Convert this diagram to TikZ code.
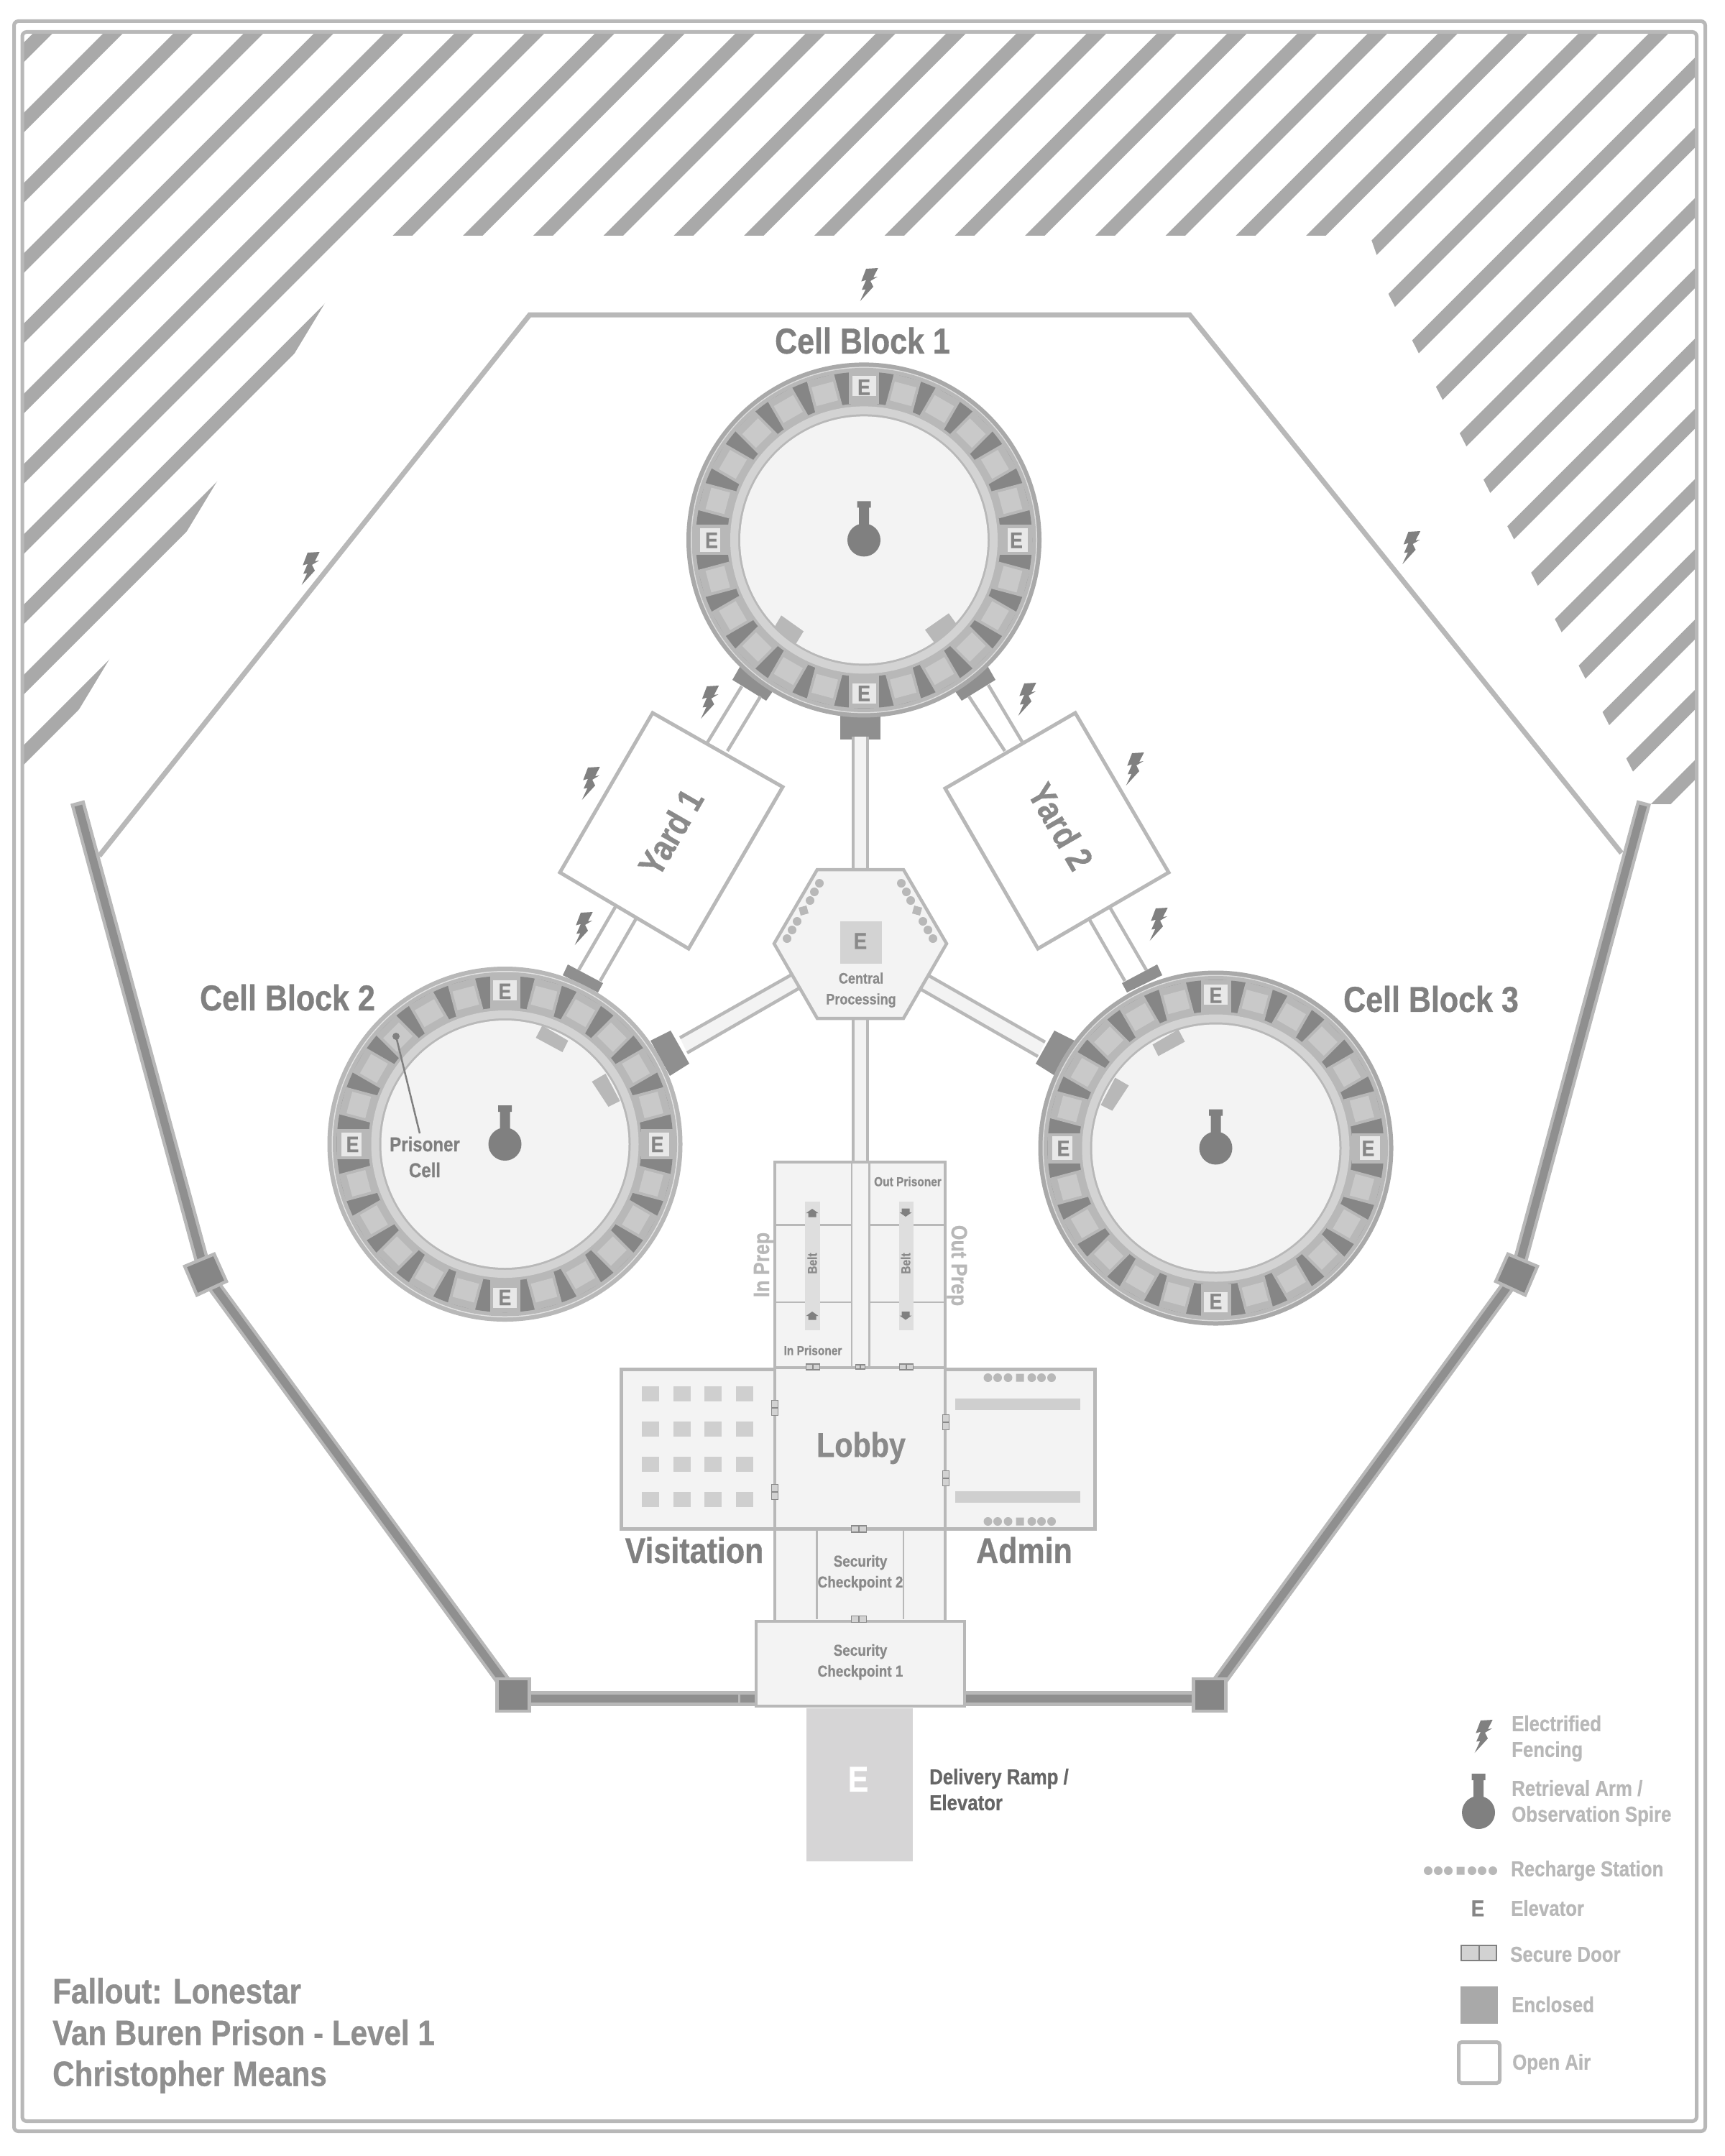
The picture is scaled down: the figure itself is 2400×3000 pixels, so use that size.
\documentclass[tikz,border=0pt]{standalone}
\usepackage{fontspec}
\newfontfamily\labfam[FakeStretch=0.86,BoldFeatures={FakeStretch=0.86,FakeBold=0.7}]{Liberation Sans}
\newcommand\lab{\labfam\bfseries}
\definecolor{wallc}{HTML}{B8B8B8}
\definecolor{stripec}{HTML}{A9A9A9}
\definecolor{floorc}{HTML}{F3F3F3}
\definecolor{darkc}{HTML}{868686}
\definecolor{padc}{HTML}{8F8F8F}
\definecolor{cellc}{HTML}{C9C9C9}
\definecolor{bandc}{HTML}{D3D3D3}
\definecolor{furnc}{HTML}{CFCFCF}
\definecolor{beltc}{HTML}{DEDEDE}
\definecolor{doorc}{HTML}{D2D2D2}
\definecolor{txtc}{HTML}{8A8A8A}
\definecolor{headc}{HTML}{808080}
\definecolor{rampc}{HTML}{D6D5D6}
\newcount\lblc
\newcommand\lbl[6][]{\global\advance\lblc by 1
  \pgfmathsetmacro\hh{0.716*#4}
  \node[name=lbl\the\lblc,inner sep=0pt,text height=\hh pt,text depth=0pt,text=#5,font={\lab\fontsize{#4}{#4}\selectfont},#1] at (#2,#3) {#6};}
\newcommand\bolt[2]{\fill[headc,shift={(#1,#2)}] (-4,-22) -- (12.7,-23) -- (6,-10) -- (12,-11) -- (2,-5) -- (6,3) -- (-12.3,23) -- (-4.7,6.6) -- (-10,7.4) -- (-4,-6.3) -- (-10.7,-4.4) -- cycle;}
\newcommand\arm[2]{\fill[headc,shift={(#1,#2)}] (0,0) circle[radius=23] (-7,2) rectangle (7,-46) (-9.5,-45) rectangle (9.5,-54);}
\newcommand\hdoor[4]{\draw[fill=doorc,draw=txtc,line width=1.1pt,shift={(#1,#2)}] (-#3/2,-#4/2) rectangle (#3/2,#4/2) (0,-#4/2) -- (0,#4/2);}
\newcommand\vdoor[4]{\draw[fill=doorc,draw=txtc,line width=1.1pt,shift={(#1,#2)}] (-#3/2,-#4/2) rectangle (#3/2,#4/2) (-#3/2,0) -- (#3/2,0);}
\newcommand\dotrow[2]{\fill[wallc,shift={(#1,#2)}] (-44.5,0) circle[radius=6] (-31,0) circle[radius=6] (-16.5,0) circle[radius=6] (-5.5,-5.5) rectangle (5.5,5.5) (16.5,0) circle[radius=6] (30,0) circle[radius=6] (44,0) circle[radius=6];}
\newcommand\corridor[4]{\fill[floorc] #1 -- #2 -- #4 -- #3 -- cycle; \draw[wallc,line width=4.5pt] #1 -- #2 #3 -- #4;}
\newcommand\cellblock[4]{%
\begin{scope}[shift={(#1,#2)}]
  \fill[#3] (0,0) circle[radius=247];
  \fill[#3!40!white] (0,0) circle[radius=241];
  \fill[wallc] (0,0) circle[radius=239.5];
  \fill[darkc] (0,0) circle[radius=234];
  \foreach \a in {15,30,45,60,75,105,120,135,150,165,195,210,225,240,255,285,300,315,330,345}{
    \begin{scope}[rotate=\a]
      \fill[wallc] (-19.5,-234) rectangle (19.5,-189);
      \fill[cellc] (-15.5,-224) rectangle (15.5,-197);
    \end{scope}}
  \foreach \a in {0,90,180,270}{
    \begin{scope}[rotate=\a]
      \fill[wallc] (-21,-234) rectangle (21,-189);
      \fill[white!91!black] (-16.5,-228) rectangle (16.5,-200);
    \end{scope}}
  \fill[wallc] (0,0) circle[radius=190];
  \fill[floorc] (0,0) circle[radius=172];
  #4
  \draw[bandc,line width=11pt] (0,0) circle[radius=180.5];
  \lbl{0}{-213}{31}{darkc}{E}
  \lbl{0}{213}{31}{darkc}{E}
  \lbl{-212}{0}{31}{darkc}{E}
  \lbl{212}{0}{31}{darkc}{E}
  \arm{0}{0}
\end{scope}}
\begin{document}
\begin{tikzpicture}[x=1pt,y=-1pt,line join=miter]
\useasboundingbox (0,0) rectangle (2400,3000);
\fill[white] (0,0) rectangle (2400,3000);
% hatched ground
\begin{scope}
  \clip (31,44.5) rectangle (2360.5,2951.5);
  \foreach \k in {-1,...,52}{
    \pgfmathsetmacro\cc{203.75+97.75*\k}
    \draw[stripec,line width=19.4pt] (\cc,0) -- (\cc-3200,3200);}
  \fill[white] (509,328) -- (1905,328) -- (1908,334) -- (1915,354) -- (1932,410) -- (2272,1074) -- (2297,1119) -- (2370,1119) -- (2370,3000) -- (20,3000) -- (20,1136) -- cycle;
\end{scope}
% frames
\draw[wallc,line width=5pt,rounded corners=6pt] (19.5,29.5) rectangle (2372.5,2965.5);
\draw[wallc,line width=5pt,rounded corners=6pt] (31,44.5) rectangle (2360.5,2951.5);
% electrified fence
\draw[wallc,line width=7pt] (138,1191) -- (737,438) -- (1655,438) -- (2256,1187);
% perimeter wall
\draw[wallc,line width=20pt] (107.7,1116) -- (286,1773) -- (714,2358);
\draw[padc,line width=11pt] (109,1121) -- (286,1773) -- (714,2358);
\draw[wallc,line width=20pt] (2287.3,1116) -- (2110,1773) -- (1683,2358);
\draw[padc,line width=11pt] (2286,1121) -- (2110,1773) -- (1683,2358);
\draw[wallc,line width=21pt] (714,2363.5) -- (1060,2363.5);
\draw[padc,line width=11pt] (714,2363.5) -- (1060,2363.5);
\draw[wallc,line width=21pt] (1683,2363.5) -- (1330,2363.5);
\draw[padc,line width=11pt] (1683,2363.5) -- (1330,2363.5);
\draw[wallc,line width=3pt] (1028,2353) -- (1028,2374);
\tikzset{pier/.style={fill=darkc,draw=wallc,line width=4.5pt}}
\draw[pier] (691.5,2336) rectangle (736.5,2381);
\draw[pier] (1660.5,2336) rectangle (1705.5,2381);
\draw[pier] (257,1762) -- (298,1745) -- (315,1783) -- (274,1802) -- cycle;
\draw[pier] (2139,1762) -- (2098,1745) -- (2081,1783) -- (2122,1802) -- cycle;
% pads under the blocks
\fill[padc] (1169,985) rectangle (1225,1029);
\fill[padc] (1019,946) -- (1035,918) -- (1085,948) -- (1066,975) -- cycle;
\fill[padc] (1385,946) -- (1369,918) -- (1319,948) -- (1338,975) -- cycle;
\fill[padc] (783,1357) -- (790,1342) -- (839,1368) -- (832,1381) -- cycle;
\fill[padc] (1617,1357) -- (1610,1342) -- (1561,1368) -- (1568,1381) -- cycle;
\fill[padc] (905,1448) -- (933,1434) -- (959,1480) -- (932,1497) -- cycle;
\fill[padc] (1495,1448) -- (1467,1434) -- (1441,1480) -- (1468,1497) -- cycle;
% corridors
\corridor{(1187,1025)}{(1187,1215)}{(1207,1025)}{(1207,1215)}
\corridor{(1187,1412)}{(1187,1620)}{(1207,1412)}{(1207,1620)}
\corridor{(1100,1357)}{(946,1444)}{(1112,1375)}{(956,1465)}
\corridor{(1293,1358)}{(1454,1450)}{(1282,1377)}{(1444,1470)}
% yard walkways
\draw[wallc,line width=4.5pt] (1032,955) -- (980,1040) (1058,969) -- (1012,1045);
\draw[wallc,line width=4.5pt] (1375,953) -- (1425,1037) (1348,969) -- (1398,1045);
\draw[wallc,line width=4.5pt] (805,1350) -- (859,1257) (835,1365) -- (888,1273);
\draw[wallc,line width=4.5pt] (1595,1350) -- (1541,1257) (1565,1365) -- (1512,1273);
% yards
\tikzset{yardroom/.style={fill=white,draw=wallc,line width=5pt}}
\draw[yardroom] (908,992) -- (1089,1095) -- (958,1320) -- (779,1214) -- cycle;
\draw[yardroom] (1496,992) -- (1626,1214) -- (1444,1320) -- (1315,1097) -- cycle;
% cell blocks
\cellblock{1202}{751.4}{stripec}{%
  \fill[wallc] (-115,105) -- (-84,127) -- (-95,145) -- (-125,122) -- cycle;
  \fill[wallc] (118,102) -- (131,120) -- (98,143) -- (85,125) -- cycle;}
\cellblock{702.5}{1592}{wallc}{%
  \fill[wallc] (52,-165) -- (88,-144) -- (80,-128) -- (43,-148) -- cycle;
  \fill[wallc] (140,-98) -- (160,-60) -- (144,-52) -- (121,-87) -- cycle;}
\cellblock{1691.5}{1597.5}{stripec}{%
  \fill[wallc] (-52,-165) -- (-88,-144) -- (-80,-128) -- (-43,-148) -- cycle;
  \fill[wallc] (-140,-98) -- (-160,-60) -- (-144,-52) -- (-121,-87) -- cycle;}
% prisoner cell pointer
\fill[headc] (551,1442) circle[radius=5];
\draw[headc,line width=2.5pt] (551,1442) -- (584,1577);
% central processing
\draw[fill=floorc,draw=wallc,line width=4.5pt] (1137,1210) -- (1257,1210) -- (1317,1313) -- (1257,1417) -- (1137,1417) -- (1077,1313) -- cycle;
\fill[bandc] (1169,1282) rectangle (1227,1341);
\fill[wallc] (1140,1229) circle[radius=6] (1133,1241) circle[radius=6] (1127,1253) circle[radius=6] (1109,1282) circle[radius=6] (1102,1294) circle[radius=6] (1095,1306) circle[radius=6];
\fill[wallc] (1254,1229) circle[radius=6] (1261,1241) circle[radius=6] (1267,1253) circle[radius=6] (1284,1282) circle[radius=6] (1291,1294) circle[radius=6] (1298,1306) circle[radius=6];
\fill[wallc] (1122,1260) -- (1125,1271) -- (1114,1274) -- (1111,1263) -- cycle;
\fill[wallc] (1272,1260) -- (1269,1271) -- (1280,1274) -- (1283,1263) -- cycle;
% prep rooms
\tikzset{roomwall/.style={fill=floorc,draw=wallc,line width=4.5pt},partition/.style={draw=wallc,line width=2.8pt}}
\draw[roomwall] (1078,1617) rectangle (1315,1903);
\draw[partition] (1185,1617) -- (1185,1902) (1209.5,1617) -- (1209.5,1902);
\draw[partition] (1078,1704.7) -- (1185,1704.7) (1078,1812) -- (1185,1812);
\draw[partition] (1209.5,1704.7) -- (1315,1704.7) (1209.5,1812) -- (1315,1812);
\fill[beltc] (1120,1672) rectangle (1141,1851);
\fill[beltc] (1251,1672) rectangle (1271,1851);
\tikzset{beltarrow/.style={fill=headc}}
\fill[beltarrow] (1130,1682) -- (1138.5,1688) -- (1135.5,1688) -- (1135.5,1693.5) -- (1124.5,1693.5) -- (1124.5,1688) -- (1121.5,1688) -- cycle;
\fill[beltarrow] (1130,1825) -- (1138.5,1831) -- (1135.5,1831) -- (1135.5,1836.5) -- (1124.5,1836.5) -- (1124.5,1831) -- (1121.5,1831) -- cycle;
\fill[beltarrow] (1260,1693) -- (1268.5,1687) -- (1265.5,1687) -- (1265.5,1681.5) -- (1254.5,1681.5) -- (1254.5,1687) -- (1251.5,1687) -- cycle;
\fill[beltarrow] (1260,1836.5) -- (1268.5,1830.5) -- (1265.5,1830.5) -- (1265.5,1825) -- (1254.5,1825) -- (1254.5,1830.5) -- (1251.5,1830.5) -- cycle;
% main rooms
\draw[roomwall] (864.5,1905.5) rectangle (1078,2127.5);
\draw[roomwall] (1315,1905.5) rectangle (1523.5,2127.5);
\draw[fill=floorc,draw=wallc,line width=3.5pt] (1078,1903) rectangle (1315,2127.5);
\draw[roomwall] (1078,2127.5) rectangle (1315,2256);
\draw[partition] (1136.6,2127.5) -- (1136.6,2253) (1257,2127.5) -- (1257,2253);
\draw[roomwall] (1052,2256) rectangle (1342,2374);
\fill[rampc] (1122,2377) rectangle (1270,2590);
% visitation furniture
\foreach \xx in {893,936.5,980,1024}{
  \foreach \yy in {1929,1978,2027,2076}{
    \fill[furnc] (\xx,\yy) rectangle (\xx+24,\yy+21);}}
% admin furniture
\fill[furnc] (1329,1946) rectangle (1502.5,1962);
\fill[furnc] (1329,2075) rectangle (1502.5,2091);
\dotrow{1419}{1917}
\dotrow{1419}{2117}
% doors
\hdoor{1131}{1902}{19}{8}
\hdoor{1261}{1902}{19}{8}
\hdoor{1197}{1902}{13}{6}
\vdoor{1078}{1959}{9}{21}
\vdoor{1078}{2076}{9}{21}
\vdoor{1316}{1979}{9}{21}
\vdoor{1316}{2057}{9}{21}
\hdoor{1195}{2127.5}{21}{9}
\hdoor{1195}{2253}{21}{9}
% bolts
\bolt{1209}{396}
\bolt{432}{791}
\bolt{1963.5}{762}
\bolt{987.5}{977}
\bolt{1429}{973}
\bolt{822}{1090}
\bolt{1579}{1070}
\bolt{812}{1292}
\bolt{1612}{1286}
% labels
\lbl{1200}{474}{50}{headc}{Cell Block 1}
\lbl{400}{1388}{50}{headc}{Cell Block 2}
\lbl{1991}{1390}{50}{headc}{Cell Block 3}
\lbl[rotate=60]{933}{1158}{50}{txtc}{Yard 1}
\lbl[rotate=-60]{1476}{1150}{50}{txtc}{Yard 2}
\lbl{591}{1592}{28}{headc}{Prisoner}
\lbl{591}{1628}{28}{headc}{Cell}
\lbl{1197}{1309}{32}{txtc}{E}
\lbl{1198}{1361}{21}{txtc}{Central}
\lbl{1198}{1390}{21}{txtc}{Processing}
\lbl[rotate=90]{1059}{1760}{31}{wallc}{In Prep}
\lbl[rotate=-90]{1335}{1761}{31}{wallc}{Out Prep}
\lbl[rotate=90]{1130}{1758}{18}{txtc}{Belt}
\lbl[rotate=90]{1260}{1758}{18}{txtc}{Belt}
\lbl{1131}{1879}{18}{txtc}{In Prisoner}
\lbl{1263}{1644}{18}{txtc}{Out Prisoner}
\lbl{1198}{2010}{48}{txtc}{Lobby}
\lbl{966}{2157}{50}{headc}{Visitation}
\lbl{1425}{2157}{50}{headc}{Admin}
\lbl{1197}{2172}{22}{txtc}{Security}
\lbl{1197}{2201}{22}{txtc}{Checkpoint 2}
\lbl{1197}{2296}{22}{txtc}{Security}
\lbl{1197}{2325}{22}{txtc}{Checkpoint 1}
\lbl{1194}{2475}{50}{white}{E}
\lbl[anchor=west]{1293}{2472}{30}{black!60}{Delivery Ramp /}
\lbl[anchor=west]{1293}{2508}{30}{black!60}{Elevator}
\lbl[anchor=west]{73}{2770}{49}{padc}{Fallout: Lonestar}
\lbl[anchor=west]{73}{2828}{49}{padc}{Van Buren Prison - Level 1}
\lbl[anchor=west]{73}{2885}{49}{padc}{Christopher Means}
% legend
\bolt{2064}{2416}
\arm{2057}{2522}
\fill[wallc] (1987,2603) circle[radius=6] (2001,2603) circle[radius=6] (2015,2603) circle[radius=6] (2026.5,2597.5) rectangle (2037.5,2608.5) (2048,2603) circle[radius=6] (2062,2603) circle[radius=6] (2077,2603) circle[radius=6];
\lbl{2056}{2655}{32}{darkc}{E}
\draw[fill=doorc,draw=headc,line width=2pt] (2033,2707) rectangle (2082,2728) (2057.5,2707) -- (2057.5,2728);
\fill[stripec] (2032,2764) rectangle (2084,2816);
\draw[wallc,line width=5pt,rounded corners=4pt] (2029.5,2841.5) rectangle (2086.5,2898.5);
\lbl[anchor=west]{2103}{2398}{30}{wallc}{Electrified}
\lbl[anchor=west]{2103}{2434}{30}{wallc}{Fencing}
\lbl[anchor=west]{2103}{2488}{30}{wallc}{Retrieval Arm /}
\lbl[anchor=west]{2103}{2524}{30}{wallc}{Observation Spire}
\lbl[anchor=west]{2102}{2600}{30}{wallc}{Recharge Station}
\lbl[anchor=west]{2102}{2655}{30}{wallc}{Elevator}
\lbl[anchor=west]{2101}{2719}{30}{wallc}{Secure Door}
\lbl[anchor=west]{2103}{2789}{30}{wallc}{Enclosed}
\lbl[anchor=west]{2104}{2869}{30}{wallc}{Open Air}
\end{tikzpicture}
\end{document}
